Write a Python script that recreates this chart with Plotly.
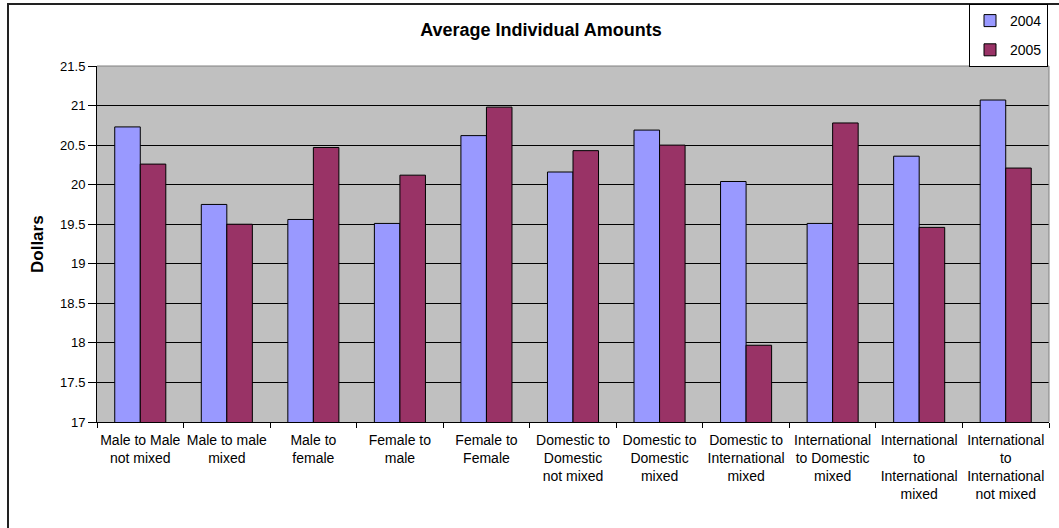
import plotly.graph_objects as go

categories = [
    "Male to Male<br>not mixed",
    "Male to male<br>mixed",
    "Male to<br>female",
    "Female to<br>male",
    "Female to<br>Female",
    "Domestic to<br>Domestic<br>not mixed",
    "Domestic to<br>Domestic<br>mixed",
    "Domestic to<br>International<br>mixed",
    "International<br>to Domestic<br>mixed",
    "International<br>to<br>International<br>mixed",
    "International<br>to<br>International<br>not mixed",
]
values_2004 = [20.73, 19.75, 19.56, 19.51, 20.62, 20.16, 20.69, 20.04, 19.51, 20.36, 21.07]
values_2005 = [20.26, 19.50, 20.47, 20.12, 20.98, 20.43, 20.50, 17.97, 20.78, 19.46, 20.21]
y_ticks = [17, 17.5, 18, 18.5, 19, 19.5, 20, 20.5, 21, 21.5]

FONT = "Liberation Sans, Arial, sans-serif"
W, H = 1059, 528
ML, MR, MT, MB = 97, 10, 66, 106
PW = W - ML - MR
PH = H - MT - MB

def px_to_paper_x(px):
    return (px - ML) / PW

def px_to_paper_y(py):
    return (H - MB - py) / PH

fig = go.Figure()
fig.add_trace(go.Bar(
    x=categories, y=values_2004, name="2004", legendgroup="a",
    marker=dict(color="#9999FF", line=dict(color="#000000", width=1)),
))
fig.add_trace(go.Bar(
    x=categories, y=values_2005, name="2005", legendgroup="b",
    marker=dict(color="#993366", line=dict(color="#000000", width=1)),
))

fig.update_layout(
    width=W, height=H,
    margin=dict(l=ML, r=MR, t=MT, b=MB, autoexpand=False),
    paper_bgcolor="white",
    plot_bgcolor="#C0C0C0",
    barmode="group",
    bargap=0.41,
    bargroupgap=0,
    font=dict(family=FONT, size=12, color="#000000"),
    title=dict(
        text="<b>Average Individual Amounts</b>",
        x=541 / W, xanchor="center",
        y=1 - 30 / H, yanchor="middle",
        font=dict(family=FONT, size=18, color="#000000"),
    ),
    showlegend=True,
    legend=dict(
        x=px_to_paper_x(1048), xanchor="right",
        y=px_to_paper_y(4), yanchor="top",
        bgcolor="white",
        bordercolor="#000000", borderwidth=1,
        font=dict(family=FONT, size=14, color="#000000"),
        traceorder="grouped",
        tracegroupgap=8,
        itemwidth=30,
    ),
    xaxis=dict(
        type="category",
        showgrid=False,
        showline=True, linecolor="#000000", linewidth=1,
        ticks="outside", ticklen=5, tickcolor="#000000",
        tickson="boundaries",
        tickangle=0,
        ticklabelstandoff=5,
        tickfont=dict(family=FONT, size=14, color="#000000"),
        fixedrange=True,
    ),
    yaxis=dict(
        range=[17, 21.5],
        tickvals=y_ticks,
        ticktext=[f"{v:g}" for v in y_ticks],
        showgrid=True, gridcolor="#000000", gridwidth=1,
        showline=True, linecolor="#000000", linewidth=1,
        ticks="outside", ticklen=8, tickcolor="#000000",
        tickfont=dict(family=FONT, size=13, color="#000000"),
        zeroline=False,
        fixedrange=True,
    ),
)

# y-axis title
fig.add_annotation(
    text="<b>Dollars</b>", textangle=-90,
    xref="paper", yref="paper",
    x=px_to_paper_x(37), y=0.5,
    xanchor="center", yanchor="middle",
    showarrow=False,
    font=dict(family=FONT, size=17, color="#000000"),
)

# plot-area border (top/right grey)
fig.add_shape(
    type="line", xref="paper", yref="paper",
    x0=0, x1=1, y0=1, y1=1,
    line=dict(color="#808080", width=1), layer="above",
)
fig.add_shape(
    type="line", xref="paper", yref="paper",
    x0=1, x1=1, y0=0, y1=1,
    line=dict(color="#808080", width=1), layer="above",
)

# outer chart-area border (cropped at right and bottom)
fig.add_shape(
    type="rect", xref="paper", yref="paper",
    x0=px_to_paper_x(8), x1=px_to_paper_x(1075),
    y0=px_to_paper_y(545), y1=px_to_paper_y(4),
    line=dict(color="#222222", width=2), fillcolor="rgba(0,0,0,0)",
    layer="above",
)

fig.write_html("out.html")
